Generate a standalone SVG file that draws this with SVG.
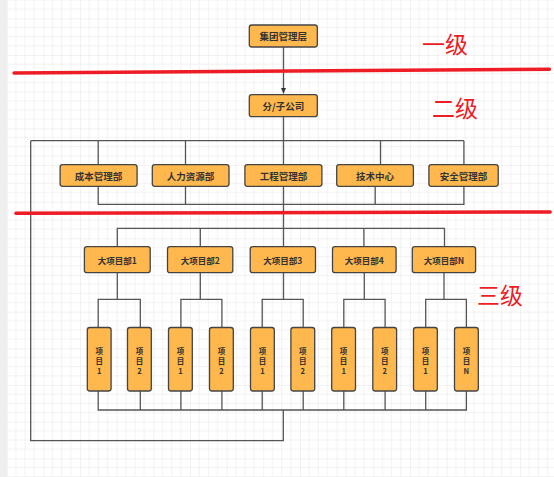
<svg xmlns="http://www.w3.org/2000/svg" width="554" height="477" viewBox="0 0 554 477">
<style>
.n rect{fill:#ffb84d;stroke:#444;stroke-width:1.3}
.n text{font-family:"Noto Sans CJK SC","Noto Sans",sans-serif;font-weight:bold;fill:#333;text-anchor:middle;dominant-baseline:central}
.t1{font-size:9.5px}
.t2{font-size:8.5px}
.n text.t3{font-size:7.5px;fill:#333}
.c{fill:none;stroke:#555;stroke-width:1.3}
.red{stroke:#ee1c25;stroke-width:3.5;stroke-linecap:round;fill:none}
.lv{font-family:"Noto Sans CJK SC",sans-serif;font-size:23px;fill:#ee1c25}
</style>
<defs>
<pattern id="grid" width="36.667" height="36.667" patternUnits="userSpaceOnUse" x="6.67" y="18.33">
<path d="M9.17 0V36.667M18.33 0V36.667M27.5 0V36.667M0 9.17H36.667M0 18.33H36.667M0 27.5H36.667" stroke="#f2f2f2" stroke-width="1"/>
<path d="M0 0V36.667M0 0H36.667" stroke="#e6e6e6" stroke-width="1"/>
</pattern>
<marker id="arr" markerWidth="6" markerHeight="6" refX="5.5" refY="3" orient="auto" markerUnits="userSpaceOnUse">
<path d="M0 0.5L5.5 3L0 5.5Z" fill="#333"/>
</marker>
</defs>
<rect width="554" height="477" fill="#fff"/>
<rect x="0" y="0" width="7.3" height="477" fill="#efefef"/>
<rect x="7.3" y="0" width="546.7" height="477" fill="url(#grid)"/>

<g id="connectors">
<path class="c" d="M283.5 47V93.5" stroke="#333" marker-end="url(#arr)"/>
<path class="c" d="M283.5 116.7V164.7M283.5 186.3V246.7"/>
<path class="c" d="M30.7 140.7H463.9M98.2 140.7V164.7M185.5 140.7V164.7M380.5 140.7V164.7M463.9 140.7V164.7"/>
<path class="c" d="M98.2 186.3V204.3H463.9V186.3M185.5 186.3V204.3M375.2 186.3V204.3"/>
<path class="c" d="M117.3 246.7V228.3H444.5V246.7M200.3 228.3V246.7M363.9 228.3V246.7"/>
<path class="c" d="M117.3 272.7V299.3M98.2 327.5V299.3H140.3V327.5"/>
<path class="c" d="M200.3 272.7V299.3M180.9 327.5V299.3H221.9V327.5"/>
<path class="c" d="M283.5 272.7V299.3M262.2 327.5V299.3H303.2V327.5"/>
<path class="c" d="M364.3 272.7V299.3M343.8 327.5V299.3H385.1V327.5"/>
<path class="c" d="M444 272.7V299.3M425.7 327.5V299.3H466.4V327.5"/>
<path class="c" d="M98.2 391V410H466.4V391M140.3 391V410M180.9 391V410M221.9 391V410M262.2 391V410M303.2 391V410M343.8 391V410M385.1 391V410M425.7 391V410"/>
<path class="c" d="M283.3 410V440.7H30.7V140.7"/>
</g>

<g id="n-top" class="n"><rect x="249.3" y="25" width="68" height="22" rx="2.5"/><text class="t1" x="283.3" y="36">集团管理层</text></g>
<g id="n-sub" class="n"><rect x="249.3" y="94.7" width="68" height="22" rx="2.5"/><text class="t1" x="283.3" y="105.7">分/子公司</text></g>

<g id="d1" class="n"><rect x="60.1" y="164.7" width="77" height="21.6" rx="2.5"/><text class="t1" x="98.6" y="175.5">成本管理部</text></g>
<g id="d2" class="n"><rect x="152.3" y="164.7" width="76.7" height="21.6" rx="2.5"/><text class="t1" x="190.6" y="175.5">人力资源部</text></g>
<g id="d3" class="n"><rect x="244.9" y="164.7" width="77" height="21.6" rx="2.5"/><text class="t1" x="283.4" y="175.5">工程管理部</text></g>
<g id="d4" class="n"><rect x="336.7" y="164.7" width="76.7" height="21.6" rx="2.5"/><text class="t1" x="375" y="175.5">技术中心</text></g>
<g id="d5" class="n"><rect x="428.9" y="164.7" width="69.3" height="21.6" rx="2.5"/><text class="t1" x="463.6" y="175.5">安全管理部</text></g>

<g id="p1" class="n"><rect x="84.4" y="246.7" width="65.8" height="26" rx="2.5"/><text class="t2" x="117.3" y="259.7">大项目部1</text></g>
<g id="p2" class="n"><rect x="167.5" y="246.7" width="65.3" height="26" rx="2.5"/><text class="t2" x="200.2" y="259.7">大项目部2</text></g>
<g id="p3" class="n"><rect x="250.2" y="246.7" width="65.3" height="26" rx="2.5"/><text class="t2" x="282.8" y="259.7">大项目部3</text></g>
<g id="p4" class="n"><rect x="332.5" y="246.7" width="63.6" height="26" rx="2.5"/><text class="t2" x="364.3" y="259.7">大项目部4</text></g>
<g id="p5" class="n"><rect x="412.3" y="246.7" width="63.3" height="26" rx="2.5"/><text class="t2" x="444" y="259.7">大项目部N</text></g>

<g id="i1" class="n"><rect x="87.3" y="327.5" width="23.8" height="63.5" rx="2.5"/><text class="t3" x="99.2" y="350">项<tspan x="99.2" dy="10">目</tspan><tspan x="99.2" dy="10">1</tspan></text></g>
<g id="i2" class="n"><rect x="127.5" y="327.5" width="23.8" height="63.5" rx="2.5"/><text class="t3" x="139.4" y="350">项<tspan x="139.4" dy="10">目</tspan><tspan x="139.4" dy="10">2</tspan></text></g>
<g id="i3" class="n"><rect x="168.5" y="327.5" width="23.8" height="63.5" rx="2.5"/><text class="t3" x="180.4" y="350">项<tspan x="180.4" dy="10">目</tspan><tspan x="180.4" dy="10">1</tspan></text></g>
<g id="i4" class="n"><rect x="209.5" y="327.5" width="23.8" height="63.5" rx="2.5"/><text class="t3" x="221.4" y="350">项<tspan x="221.4" dy="10">目</tspan><tspan x="221.4" dy="10">2</tspan></text></g>
<g id="i5" class="n"><rect x="250.5" y="327.5" width="23.8" height="63.5" rx="2.5"/><text class="t3" x="262.4" y="350">项<tspan x="262.4" dy="10">目</tspan><tspan x="262.4" dy="10">1</tspan></text></g>
<g id="i6" class="n"><rect x="290.9" y="327.5" width="23.8" height="63.5" rx="2.5"/><text class="t3" x="302.8" y="350">项<tspan x="302.8" dy="10">目</tspan><tspan x="302.8" dy="10">2</tspan></text></g>
<g id="i7" class="n"><rect x="331.7" y="327.5" width="23.8" height="63.5" rx="2.5"/><text class="t3" x="343.6" y="350">项<tspan x="343.6" dy="10">目</tspan><tspan x="343.6" dy="10">1</tspan></text></g>
<g id="i8" class="n"><rect x="372.8" y="327.5" width="23.8" height="63.5" rx="2.5"/><text class="t3" x="384.7" y="350">项<tspan x="384.7" dy="10">目</tspan><tspan x="384.7" dy="10">2</tspan></text></g>
<g id="i9" class="n"><rect x="413.5" y="327.5" width="23.8" height="63.5" rx="2.5"/><text class="t3" x="425.4" y="350">项<tspan x="425.4" dy="10">目</tspan><tspan x="425.4" dy="10">1</tspan></text></g>
<g id="i10" class="n"><rect x="454.5" y="327.5" width="23.8" height="63.5" rx="2.5"/><text class="t3" x="466.4" y="350">项<tspan x="466.4" dy="10">目</tspan><tspan x="466.4" dy="10">N</tspan></text></g>

<g id="levels">
<path class="red" d="M14.1 73L549.4 69.3"/>
<path class="red" d="M15.9 213.3L550.1 212"/>
<text class="lv" x="422" y="53">一级</text>
<text class="lv" x="432" y="117">二级</text>
<text class="lv" x="477" y="304">三级</text>
</g>
</svg>
